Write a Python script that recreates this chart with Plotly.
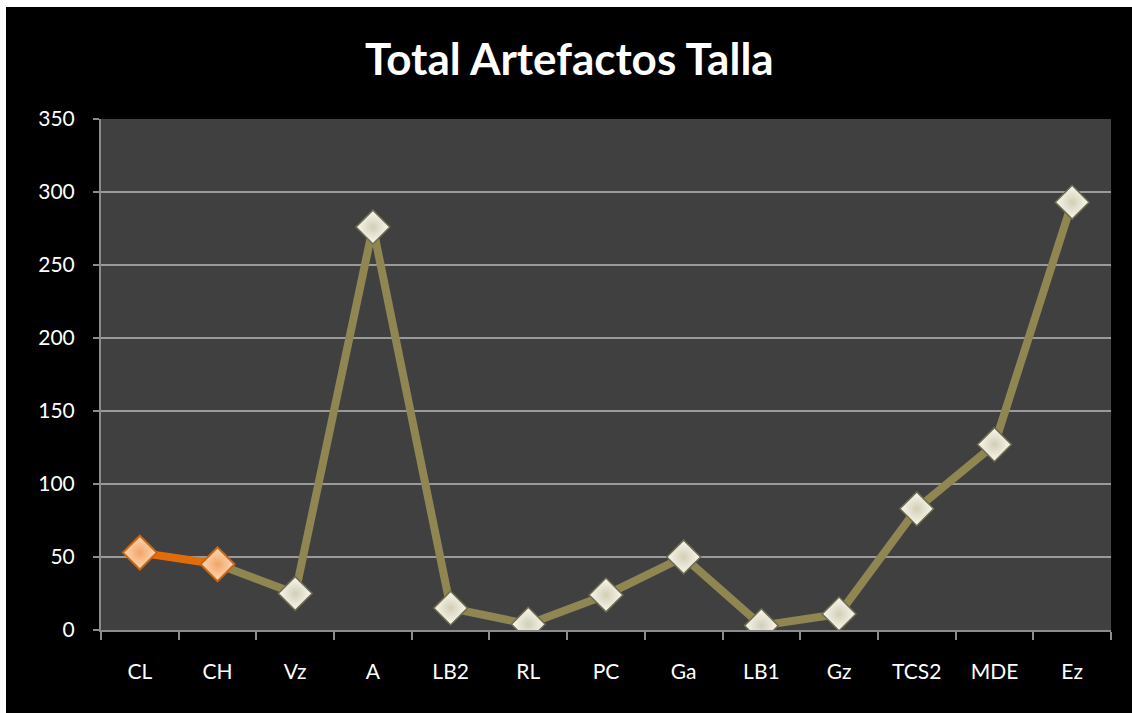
import plotly.graph_objects as go

# Sites and artefact counts
categories = ["CL", "CH", "Vz", "A", "LB2", "RL", "PC", "Ga", "LB1", "Gz", "TCS2", "MDE", "Ez"]
totals = [53, 45, 25, 276, 15, 4, 24, 50, 3, 11, 83, 127, 293]

# first two sites are drawn as a highlighted series
highlight_n = 2

y_ticks = [0, 50, 100, 150, 200, 250, 300, 350]

W, H = 1132, 713
ML, MR, MT, MB = 101, 21, 119, 83
pw, ph = W - ML - MR, H - MT - MB


def px_x(p):
    return (p - ML) / pw


def px_y(p):
    return (H - MB - p) / ph


fig = go.Figure()

# main series (from the second site onward)
fig.add_trace(go.Scatter(
    x=categories[highlight_n - 1:], y=totals[highlight_n - 1:],
    mode="lines+markers",
    line=dict(color="#8F8652", width=8),
    marker=dict(symbol="diamond", size=26, color="#FAF9F0",
                line=dict(color="#6F6B4E", width=1.5),
                gradient=dict(type="radial", color="#D2CEB6")),
    showlegend=False,
))

# highlighted series
fig.add_trace(go.Scatter(
    x=categories[:highlight_n], y=totals[:highlight_n],
    mode="lines+markers",
    line=dict(color="#E36C0A", width=8),
    marker=dict(symbol="diamond", size=26, color="#FDDCBD",
                line=dict(color="#D2650C", width=2),
                gradient=dict(type="radial", color="#F2A466")),
    showlegend=False,
))

# page frame and plot area background
fig.add_shape(type="rect", xref="paper", yref="paper",
              x0=px_x(6), x1=px_x(W + 2), y0=px_y(H + 2), y1=px_y(7),
              fillcolor="#000000", line=dict(width=0), layer="below")
fig.add_shape(type="rect", xref="paper", yref="paper",
              x0=0, x1=1, y0=0, y1=1,
              fillcolor="#404040", line=dict(width=0), layer="below")

font_family = "Lato, 'Open Sans', sans-serif"

fig.update_layout(
    width=W, height=H,
    margin=dict(l=ML, r=MR, t=MT, b=MB),
    paper_bgcolor="#FFFFFF",
    plot_bgcolor="#404040",
    title=dict(text="<b>Total Artefactos Talla</b>", x=0.503, xanchor="center",
               y=1 - 60 / H, yanchor="middle",
               font=dict(family=font_family, size=44, color="#FFFFFF")),
    font=dict(family=font_family, color="#FFFFFF", size=21),
    xaxis=dict(
        type="category", categoryorder="array", categoryarray=categories,
        tickson="boundaries", ticks="outside", ticklen=8,
        tickcolor="#8C8C8C", tickwidth=2,
        showline=True, linecolor="#8C8C8C", linewidth=2,
        showgrid=False, ticklabelstandoff=22,
        tickfont=dict(size=21, color="#FFFFFF"),
        range=[-0.5, len(categories) - 0.5],
    ),
    yaxis=dict(
        range=[0, 350], tickvals=y_ticks, ticks="outside", ticklen=6,
        tickcolor="#8C8C8C", tickwidth=2,
        showline=True, linecolor="#8C8C8C", linewidth=2,
        showgrid=True, gridcolor="#9A9A9A", gridwidth=1.5,
        zeroline=False, ticklabelstandoff=14,
        tickfont=dict(size=21, color="#FFFFFF"),
    ),
)

fig.write_html("out.html")
